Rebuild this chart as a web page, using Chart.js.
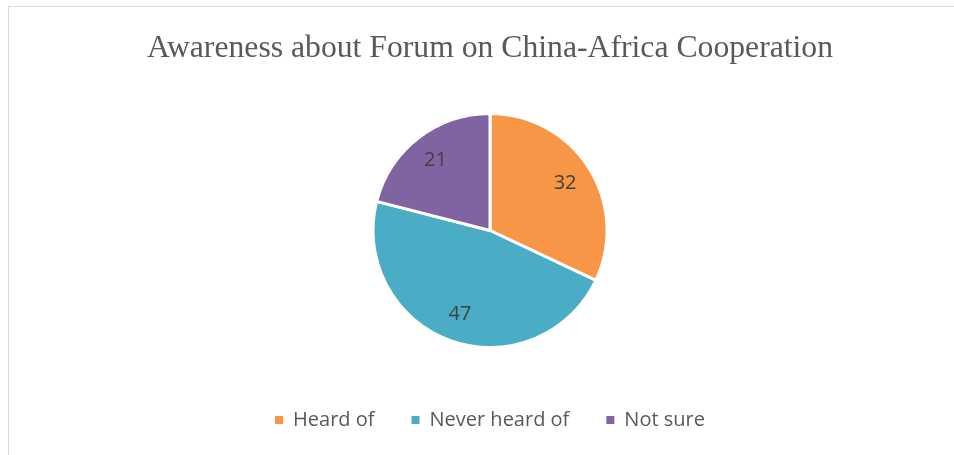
<!DOCTYPE html>
<html>
<head>
<meta charset="utf-8">
<script src="https://cdn.jsdelivr.net/npm/chart.js@4.4.1/dist/chart.umd.min.js"></script>
<style>
  html, body { margin: 0; padding: 0; background: #fff; overflow: hidden; }
  #frame { position: absolute; left: 8px; top: 6px; width: 1000px; height: 500px; border: 1px solid #d9d9d9; }
  #wrap { position: absolute; left: 0; top: 0; width: 954px; height: 455px; }
</style>
</head>
<body>
<div id="frame"></div>
<div id="wrap"><canvas id="awarenessChart"></canvas></div>
<script>
const chartTitle = 'Awareness about Forum on China-Africa Cooperation';
const categories = ['Heard of', 'Never heard of', 'Not sure'];
const responses = [32, 47, 21];
const sliceColors = ['#f79646', '#4bacc6', '#8064a2'];

// pick a title size so its width matches the original (~686px)
function fitTitleSize(text, family, target) {
    const ctx = document.createElement('canvas').getContext('2d');
    ctx.font = `100px ${family}`;
    return Math.round(100 * target / ctx.measureText(text).width * 10) / 10;
}
const titleFamily = '"Liberation Serif", serif';
const titleSize = fitTitleSize(chartTitle, titleFamily, 686);

// values written inside each slice
const sliceLabels = {
    id: 'sliceLabels',
    afterDatasetsDraw(chart) {
        const ctx = chart.ctx;
        const meta = chart.getDatasetMeta(0);
        ctx.save();
        ctx.font = '20px "Open Sans", sans-serif';
        ctx.fillStyle = '#404040';
        ctx.textAlign = 'center';
        ctx.textBaseline = 'middle';
        meta.data.forEach((arc, i) => {
            const p = arc.getProps(['x', 'y', 'startAngle', 'endAngle', 'outerRadius'], true);
            const mid = (p.startAngle + p.endAngle) / 2;
            const r = p.outerRadius * 0.76;
            ctx.fillText(String(chart.data.datasets[0].data[i]), p.x + Math.cos(mid) * r, p.y + Math.sin(mid) * r);
        });
        ctx.restore();
    }
};

new Chart(document.getElementById('awarenessChart'), {
    type: 'pie',
    data: {
        labels: categories,
        datasets: [{
            data: responses,
            backgroundColor: sliceColors,
            borderColor: '#ffffff',
            borderWidth: 3,
            radius: 117,
            clip: false
        }]
    },
    options: {
        responsive: true,
        maintainAspectRatio: false,
        animation: false,
        layout: { padding: { left: 26, right: 0, top: 0, bottom: 15 } },
        plugins: {
            title: {
                display: true,
                text: chartTitle,
                color: '#595959',
                font: { family: titleFamily, size: titleSize, weight: 'normal', lineHeight: 1 },
                padding: { top: 48.5 - titleSize / 2, bottom: 88 - (48.5 + titleSize / 2) }
            },
            legend: {
                position: 'bottom',
                labels: {
                    color: '#595959',
                    font: { family: '"Open Sans", sans-serif', size: 20 },
                    boxWidth: 8,
                    boxHeight: 8,
                    padding: 37,
                    generateLabels: chart => Chart.overrides.pie.plugins.legend.labels
                        .generateLabels(chart).map(item => ({ ...item, lineWidth: 0 }))
                }
            },
            tooltip: { enabled: false }
        }
    },
    plugins: [sliceLabels]
});
</script>
</body>
</html>
